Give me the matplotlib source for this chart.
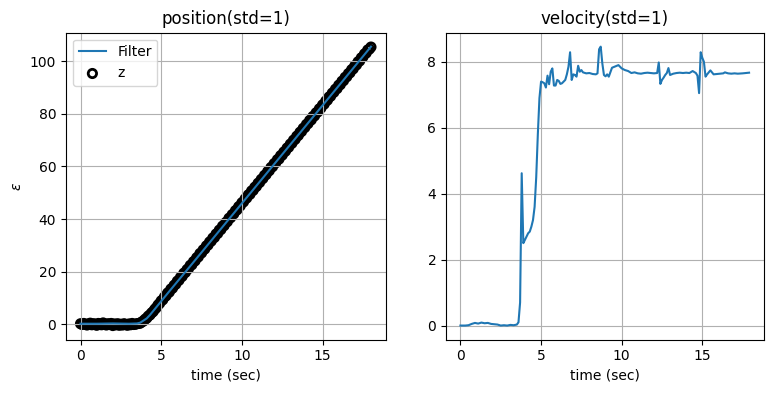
import numpy as np
import matplotlib
matplotlib.use("Agg")
import matplotlib.pyplot as plt

# measurement times (s) and measured positions z
z_time = np.round(np.arange(181) * 0.1, 1)
z_pos = [0.2, -0.1, 0.3, 0.0, -0.3, 0.1, 0.4, -0.2, 0.2, 0.0,
         -0.4, 0.3, 0.1, -0.2, 0.5, 0.0, -0.3, 0.2, -0.1, 0.3,
         -0.5, 0.1, -0.2, 0.2, -0.4, 0.0, -0.3, 0.2, -0.1, -0.4,
         0.1, -0.2, 0.3, -0.1, 0.0, 0.2, 0.3, 0.4, 0.9, 1.2,
         1.9, 2.3, 3.1, 3.5, 4.3, 4.8, 5.7, 6.3, 7.3, 7.9,
         8.9, 9.3, 10.4, 10.8, 11.9, 12.2, 13.4, 13.7, 14.8, 15.2,
         16.4, 16.7, 17.9, 18.2, 19.4, 19.7, 20.8, 21.2, 22.4, 22.6,
         23.8, 24.1, 25.3, 25.6, 26.9, 27.1, 28.3, 28.6, 29.8, 30.1,
         31.3, 31.6, 32.8, 33.0, 34.3, 34.5, 35.8, 36.0, 37.3, 37.5,
         38.7, 39.0, 40.3, 40.5, 41.7, 42.0, 43.2, 43.5, 44.7, 45.0,
         46.2, 46.5, 47.7, 48.0, 49.2, 49.4, 50.7, 50.9, 52.1, 52.4,
         53.6, 53.9, 55.1, 55.4, 56.6, 56.9, 58.1, 58.4, 59.6, 59.9,
         61.1, 61.4, 62.6, 62.8, 64.1, 64.3, 65.5, 65.8, 67.0, 67.3,
         68.5, 68.8, 70.0, 70.3, 71.5, 71.8, 73.0, 73.3, 74.5, 74.8,
         76.0, 76.3, 77.5, 77.7, 79.0, 79.2, 80.4, 80.7, 81.9, 82.2,
         83.4, 83.7, 84.9, 85.2, 86.4, 86.7, 87.9, 88.2, 89.4, 89.6,
         90.9, 91.1, 92.4, 92.6, 93.9, 94.1, 95.3, 95.6, 96.8, 97.1,
         98.3, 98.6, 99.8, 100.1, 101.3, 101.6, 102.8, 103.1, 104.3, 104.6,
         105.4]

# filter position estimate
f_time = [0, 1, 2, 3, 3.5, 3.7, 3.9, 4.1, 4.3, 4.5, 4.7, 4.9, 5.1, 5.5, 6,
          7, 8, 9, 10, 11, 12, 13, 14, 15, 16, 17, 18]
f_pos = [0.2, 0.2, 0.3, 0.2, 0.3, 0.6, 1.4, 2.2, 3.5, 5.0, 6.5, 8.0, 9.5, 12.5, 16.2,
         23.6, 31.05, 38.5, 45.95, 53.4, 60.85, 68.3, 75.75, 83.2, 90.65, 98.1, 105.55]

# filter velocity estimate
v_time = [0.0, 0.3, 0.5, 0.7, 0.9, 1.1, 1.3, 1.5, 1.7, 1.9, 2.1, 2.3, 2.5, 2.7, 2.9,
          3.1, 3.3, 3.5, 3.6, 3.7, 3.8, 3.9, 4.0, 4.1, 4.2, 4.3, 4.4, 4.5, 4.6, 4.7,
          4.8, 4.9, 5.0, 5.1, 5.2, 5.3, 5.4, 5.5, 5.6, 5.7, 5.8, 5.9, 6.0, 6.1, 6.2,
          6.3, 6.4, 6.5, 6.6, 6.7, 6.8, 6.9, 7.0, 7.1, 7.2, 7.3, 7.4, 7.5, 7.6, 7.8,
          8.0, 8.2, 8.4, 8.5, 8.6, 8.7, 8.8, 8.9, 9.0, 9.1, 9.2, 9.4, 9.6, 9.8, 10.0,
          10.2, 10.4, 10.6, 10.8, 11.0, 11.2, 11.4, 11.6, 11.8, 12.0, 12.2, 12.3, 12.4, 12.5,
          12.6, 12.7, 12.8, 12.9, 13.0, 13.1, 13.2, 13.4, 13.6, 13.8, 14.0, 14.2, 14.4, 14.6,
          14.7, 14.8, 14.9, 15.0, 15.1, 15.2, 15.3, 15.5, 15.7, 15.9, 16.1, 16.3, 16.4, 16.6,
          16.8, 17.0, 17.2, 17.5, 17.7, 17.9]
v_val = [0.0, 0.0, 0.01, 0.05, 0.08, 0.06, 0.09, 0.07, 0.08, 0.05, 0.04, 0.03, 0.0, 0.01, 0.0,
         0.02, 0.01, 0.03, 0.1, 0.7, 4.62, 2.5, 2.6, 2.7, 2.8, 2.85, 3.0, 3.2, 3.6, 4.5,
         5.8, 6.9, 7.4, 7.38, 7.35, 7.22, 7.58, 7.32, 7.7, 7.8, 7.28, 7.28, 7.45, 7.42, 7.33,
         7.35, 7.4, 7.45, 7.62, 7.85, 8.29, 7.45, 7.62, 7.6, 7.55, 7.88, 7.7, 7.75, 7.68, 7.65,
         7.66, 7.63, 7.62, 7.65, 8.38, 8.46, 7.95, 7.6, 7.56, 7.62, 7.55, 7.82, 7.86, 7.9, 7.8,
         7.75, 7.72, 7.66, 7.68, 7.65, 7.64, 7.66, 7.67, 7.66, 7.65, 7.66, 7.98, 7.33, 7.45,
         7.52, 7.6, 7.66, 7.81, 7.6, 7.62, 7.64, 7.66, 7.67, 7.66, 7.67, 7.66, 7.72, 7.66,
         7.58, 7.05, 8.29, 8.12, 8.0, 7.55, 7.62, 7.74, 7.62, 7.63, 7.64, 7.65, 7.68, 7.65,
         7.64, 7.65, 7.64, 7.65, 7.66, 7.67]

fig = plt.figure(figsize=(7.73, 3.93), dpi=100)
W, H = 773, 393
ax1 = fig.add_axes([66 / W, (H - 339.5) / H, 319.5 / W, 306.8 / H])
ax2 = fig.add_axes([446 / W, (H - 339.5) / H, 317.5 / W, 306.8 / H])

sc = ax1.scatter(z_time, z_pos, facecolor='none', edgecolor='k', lw=2, label='z')
ln, = ax1.plot(f_time, f_pos, color='C0', lw=1.5, label='Filter')
ax1.legend(handles=[ln, sc], loc='upper left')
ax1.set_title('position(std=1)')
ax1.set_xlabel('time (sec)')
ax1.set_ylabel(r'$\varepsilon$')
ax1.grid(True)

ax2.plot(v_time, v_val, color='C0', lw=1.5)
ax2.set_title('velocity(std=1)')
ax2.set_xlabel('time (sec)')
ax2.grid(True)

fig.savefig('out.png', dpi=100)
